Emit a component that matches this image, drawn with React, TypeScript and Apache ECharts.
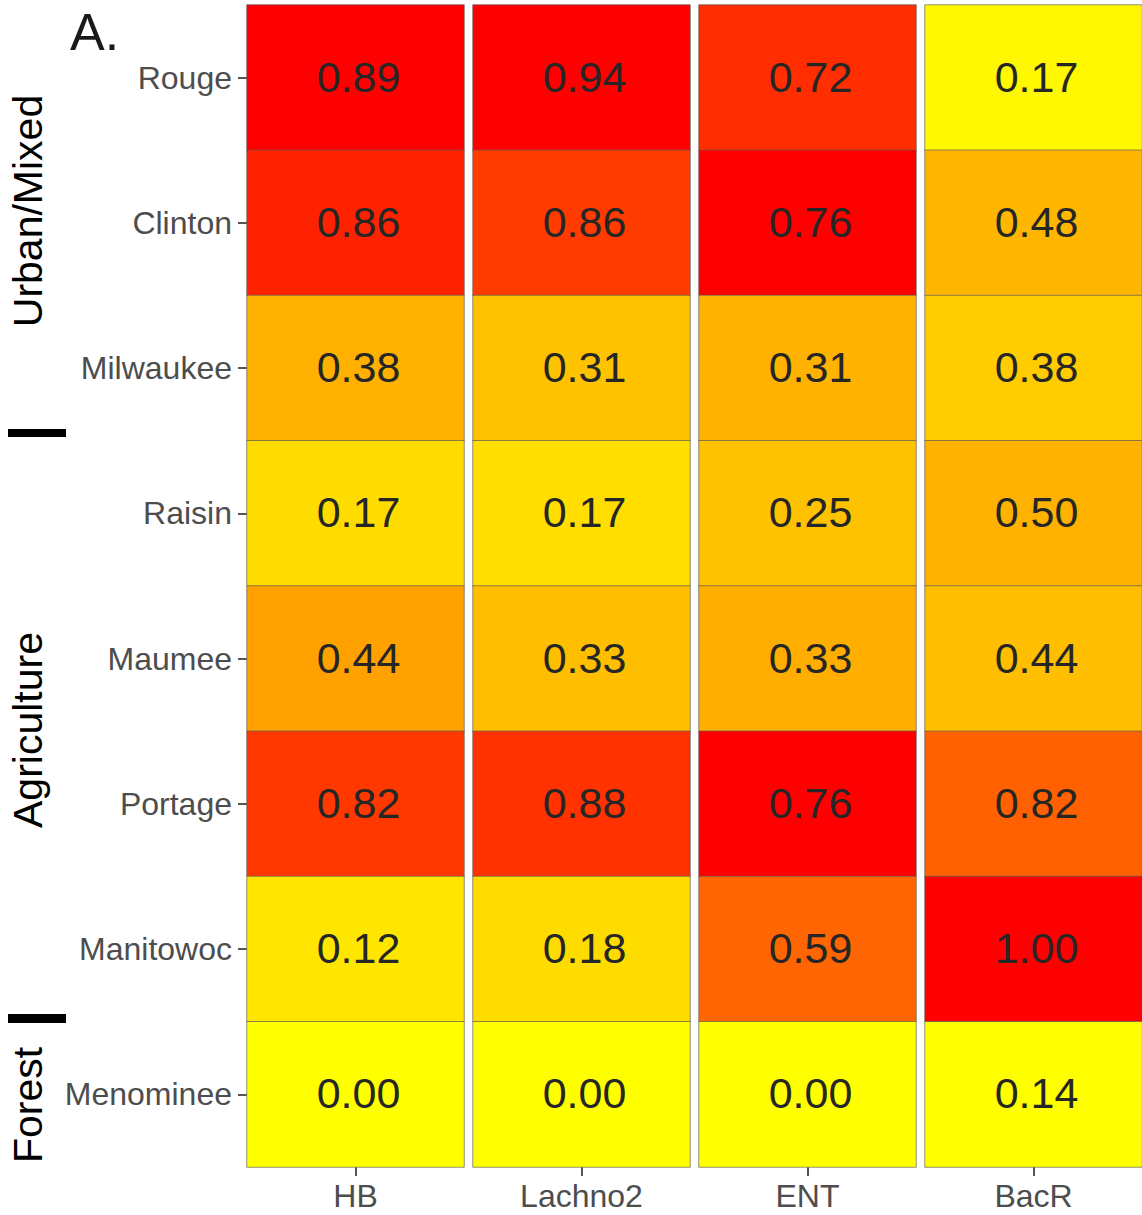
import React, { useEffect, useRef } from "react";
import * as echarts from "echarts";

const rows = ["Rouge", "Clinton", "Milwaukee", "Raisin", "Maumee", "Portage", "Manitowoc", "Menominee"];
const columns = ["HB", "Lachno2", "ENT", "BacR"];
const hbValues = [0.89, 0.86, 0.38, 0.17, 0.44, 0.82, 0.12, 0.0];
const lachno2Values = [0.94, 0.86, 0.31, 0.17, 0.33, 0.88, 0.18, 0.0];
const entValues = [0.72, 0.76, 0.31, 0.25, 0.33, 0.76, 0.59, 0.0];
const bacrValues = [0.17, 0.48, 0.38, 0.5, 0.44, 0.82, 1.0, 0.14];
const columnValues = [hbValues, lachno2Values, entValues, bacrValues];
const groups = [
  { label: "Urban/Mixed", y: 211 },
  { label: "Agriculture", y: 730 },
  { label: "Forest", y: 1105 },
];

// Lab interpolation (like ggplot2's gradient palette)
function toLin(c: number) {
  c /= 255;
  return c <= 0.04045 ? c / 12.92 : Math.pow((c + 0.055) / 1.055, 2.4);
}
function fromLin(c: number) {
  c = Math.max(0, Math.min(1, c));
  const v = c <= 0.0031308 ? 12.92 * c : 1.055 * Math.pow(c, 1 / 2.4) - 0.055;
  return Math.round(Math.max(0, Math.min(1, v)) * 255);
}
const WN = [0.95047, 1, 1.08883];
function rgbToLab(r: number, g: number, b: number) {
  const R = toLin(r), G = toLin(g), B = toLin(b);
  const X = (0.4124 * R + 0.3576 * G + 0.1805 * B) / WN[0];
  const Y = (0.2126 * R + 0.7152 * G + 0.0722 * B) / WN[1];
  const Z = (0.0193 * R + 0.1192 * G + 0.9505 * B) / WN[2];
  const f = (t: number) => (t > 0.008856 ? Math.cbrt(t) : 7.787 * t + 16 / 116);
  const fx = f(X), fy = f(Y), fz = f(Z);
  return [116 * fy - 16, 500 * (fx - fy), 200 * (fy - fz)];
}
function labToHex(L: number, a: number, b: number) {
  const fy = (L + 16) / 116, fx = fy + a / 500, fz = fy - b / 200;
  const fi = (f: number) => (f * f * f > 0.008856 ? f * f * f : (f - 16 / 116) / 7.787);
  const X = fi(fx) * WN[0], Y = fi(fy) * WN[1], Z = fi(fz) * WN[2];
  const R = 3.2406 * X - 1.5372 * Y - 0.4986 * Z;
  const G = -0.9689 * X + 1.8758 * Y + 0.0415 * Z;
  const B = 0.0557 * X - 0.204 * Y + 1.057 * Z;
  const h = (v: number) => fromLin(v).toString(16).padStart(2, "0");
  return "#" + h(R) + h(G) + h(B);
}
function labRamp(c0: number[], c1: number[], n: number) {
  const l0 = rgbToLab(c0[0], c0[1], c0[2]);
  const l1 = rgbToLab(c1[0], c1[1], c1[2]);
  const out: string[] = [];
  for (let i = 0; i < n; i++) {
    const t = i / (n - 1);
    out.push(labToHex(l0[0] + (l1[0] - l0[0]) * t, l0[1] + (l1[1] - l0[1]) * t, l0[2] + (l1[2] - l0[2]) * t));
  }
  return out;
}

export default function App() {
  const ref = useRef<HTMLDivElement>(null);
  useEffect(() => {
    if (!ref.current) return;
    const chart = echarts.init(ref.current, null, { renderer: "svg" });
    const colLeft = [247, 473, 699, 925];
    const colW = 217;
    const top = 5;
    const height = 1162;
    const grids = columns.map((_, i) => ({ left: colLeft[i], top, width: colW, height }));
    const xAxes = columns.map((c, i) => ({
      type: "category",
      gridIndex: i,
      data: [c],
      axisLine: { show: false },
      axisTick: { show: true, alignWithLabel: true, length: 9, lineStyle: { color: "#555", width: 2 } },
      axisLabel: { fontSize: 32, color: "#4D4D4D", margin: 13, fontFamily: "Liberation Sans, Arial, sans-serif" },
      splitLine: { show: false },
    }));
    const yAxes = columns.map((_, i) => ({
      type: "category",
      gridIndex: i,
      data: rows,
      inverse: true,
      show: i === 0,
      axisLine: { show: false },
      axisTick: { show: true, alignWithLabel: true, length: 9, lineStyle: { color: "#555", width: 2 } },
      axisLabel: { fontSize: 32, color: "#4D4D4D", margin: 15, fontFamily: "Liberation Sans, Arial, sans-serif" },
      splitLine: { show: false },
    }));
    const series = columnValues.map((vals, i) => {
      const mn = Math.min(...vals);
      const mx = Math.max(...vals);
      return {
        type: "heatmap",
        xAxisIndex: i,
        yAxisIndex: i,
        data: vals.map((v, r) => [0, r, v, (v - mn) / (mx - mn)]),
        itemStyle: { borderColor: "rgba(90,90,90,0.65)", borderWidth: 1 },
        label: {
          show: true,
          formatter: (p: any) => Number(p.value[2]).toFixed(2),
          fontSize: 43,
          color: "#262626",
          offset: [3, -1],
          fontFamily: "Liberation Sans, Arial, sans-serif",
        },
        emphasis: { disabled: true },
      };
    });
    const graphic: any[] = [
      {
        type: "text",
        x: 70,
        y: 32,
        style: { text: "A.", fontSize: 52, fill: "#1A1A1A", align: "left", verticalAlign: "middle", fontFamily: "Liberation Sans, Arial, sans-serif" },
      },
      { type: "rect", shape: { x: 8, y: 429, width: 58, height: 8 }, style: { fill: "#000" } },
      { type: "rect", shape: { x: 8, y: 1014, width: 58, height: 9 }, style: { fill: "#000" } },
      ...groups.map((g) => ({
        type: "text",
        x: 28,
        y: g.y,
        rotation: Math.PI / 2,
        style: { text: g.label, fontSize: 41, fill: "#000", align: "center", verticalAlign: "middle", fontFamily: "Liberation Sans, Arial, sans-serif" },
      })),
    ];
    chart.setOption({
      animation: false,
      backgroundColor: "#fff",
      grid: grids,
      xAxis: xAxes,
      yAxis: yAxes,
      visualMap: {
        type: "continuous",
        show: false,
        min: 0,
        max: 1,
        dimension: 3,
        seriesIndex: [0, 1, 2, 3],
        inRange: { color: labRamp([255, 255, 0], [255, 0, 0], 41) },
      },
      series,
      graphic,
    });
    return () => chart.dispose();
  }, []);
  return (
    <div
      ref={ref}
      style={{ position: "absolute", left: 0, top: 0, width: 1142, height: 1215, background: "#fff" }}
    />
  );
}
